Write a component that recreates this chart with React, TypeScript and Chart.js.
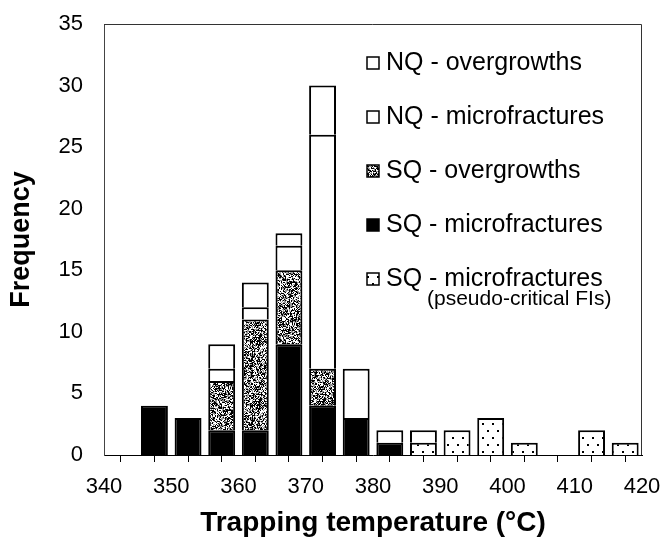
import React, { useEffect, useRef } from 'react';
import { Chart, registerables } from 'chart.js';

Chart.register(...registerables);

// ---- Data ----
const binCenters = [347.5, 352.5, 357.5, 362.5, 367.5, 372.5, 377.5, 382.5, 387.5, 392.5, 397.5, 402.5, 407.5, 412.5, 417.5];
const sqMicrofractures = [4, 3, 2, 2, 9, 4, 3, 1, 0, 0, 0, 0, 0, 0, 0];
const sqPseudoCritical = [0, 0, 0, 0, 0, 0, 0, 0, 1, 2, 3, 1, 0, 2, 1];
const sqOvergrowths = [0, 0, 4, 9, 6, 3, 0, 0, 0, 0, 0, 0, 0, 0, 0];
const nqMicrofractures = [0, 0, 1, 1, 2, 19, 4, 1, 1, 0, 0, 0, 0, 0, 0];
const nqOvergrowths = [0, 0, 2, 2, 1, 4, 0, 0, 0, 0, 0, 0, 0, 0, 0];

const seriesLabels = ['SQ - microfractures', 'SQ - microfractures', 'SQ - overgrowths', 'NQ - microfractures', 'NQ - overgrowths'];
const legendOrder = [4, 3, 2, 0, 1];
const legendNote = '(pseudo-critical FIs)';

const xMin = 340;
const xMax = 420;
const xStep = 5;
const xLabelStep = 10;
const yMin = 0;
const yMax = 35;
const yStep = 5;

const xTitle = 'Trapping temperature (°C)';
const yTitle = 'Frequency';

const FONT = '"Liberation Sans", Arial, Helvetica, sans-serif';

function hash2(x: number, y: number): number {
  let h = Math.imul(x, 374761393) + Math.imul(y, 668265263);
  h = Math.imul(h ^ (h >>> 13), 1274126177);
  h = h ^ (h >>> 16);
  return (h >>> 0) / 4294967296;
}

function makeStipple(ctx: CanvasRenderingContext2D): CanvasPattern | string {
  const size = 64;
  const c = document.createElement('canvas');
  c.width = size;
  c.height = size;
  const g = c.getContext('2d');
  if (!g) return '#777';
  const img = g.createImageData(size, size);
  for (let y = 0; y < size; y++) {
    for (let x = 0; x < size; x++) {
      const h = hash2(x + 11, y + 7);
      const v = h < 0.42 ? 0 : h < 0.68 ? 150 : 255;
      const i = (y * size + x) * 4;
      img.data[i] = v;
      img.data[i + 1] = v;
      img.data[i + 2] = v;
      img.data[i + 3] = 255;
    }
  }
  g.putImageData(img, 0, 0);
  return ctx.createPattern(c, 'repeat') || '#777';
}

function makeDots(ctx: CanvasRenderingContext2D): CanvasPattern | string {
  const c = document.createElement('canvas');
  c.width = 10;
  c.height = 14;
  const g = c.getContext('2d');
  if (!g) return '#fff';
  g.fillStyle = '#fff';
  g.fillRect(0, 0, 10, 14);
  g.fillStyle = '#000';
  g.fillRect(2, 3, 2, 2);
  g.fillRect(7, 10, 2, 2);
  return ctx.createPattern(c, 'repeat') || '#fff';
}

const toPoints = (vals: number[]) =>
  binCenters.map((x, i) => ({ x, y: vals[i] > 0 ? vals[i] : null }));

export default function App() {
  const ref = useRef<HTMLCanvasElement | null>(null);

  useEffect(() => {
    const canvas = ref.current;
    if (!canvas) return;
    const ctx = canvas.getContext('2d');
    if (!ctx) return;
    const stipple = makeStipple(ctx);
    const dots = makeDots(ctx);

    const fills: any[] = ['#000000', dots, stipple, '#ffffff', '#ffffff'];
    const values = [sqMicrofractures, sqPseudoCritical, sqOvergrowths, nqMicrofractures, nqOvergrowths];

    const framePlugin = {
      id: 'frame',
      afterDatasetsDraw(chart: any) {
        const { ctx: c, chartArea: a } = chart;
        c.save();
        c.strokeStyle = '#333';
        c.lineWidth = 1;
        c.beginPath();
        c.moveTo(a.left, a.top + 0.5);
        c.lineTo(a.right - 0.5, a.top + 0.5);
        c.lineTo(a.right - 0.5, a.bottom);
        c.stroke();
        c.restore();
      },
    };

    const legendPlugin = {
      id: 'insideLegend',
      afterDraw(chart: any) {
        const { ctx: c, chartArea: a } = chart;
        const ds = chart.data.datasets;
        c.save();
        const boxX = a.left + 263;
        const textX = a.left + 282;
        const rowGap = 54;
        legendOrder.forEach((di, row) => {
          const cy = a.top + 39 + row * rowGap;
          c.fillStyle = ds[di].backgroundColor;
          c.fillRect(boxX, cy - 6, 12, 12);
          c.strokeStyle = '#000';
          c.lineWidth = 1.5;
          c.strokeRect(boxX, cy - 6, 12, 12);
          c.fillStyle = '#000';
          c.font = `25px ${FONT}`;
          c.textAlign = 'left';
          c.textBaseline = 'middle';
          c.fillText(ds[di].label, textX, cy);
          if (row === legendOrder.length - 1) {
            c.font = `21px ${FONT}`;
            c.fillText(legendNote, a.left + 323, cy + 20);
          }
        });
        c.restore();
      },
    };

    const chart = new Chart(canvas, {
      type: 'bar',
      data: {
        datasets: values.map((v, i) => ({
          label: seriesLabels[i],
          data: toPoints(v),
          backgroundColor: fills[i],
          borderColor: '#000',
          borderWidth: 2,
          barPercentage: 0.8,
          categoryPercentage: 1,
        })),
      },
      options: {
        animation: false,
        responsive: false,
        devicePixelRatio: 1,
        layout: { padding: { top: 24, right: 20, bottom: 0, left: 0 } },
        plugins: {
          legend: { display: false },
          tooltip: { enabled: false },
        },
        scales: {
          x: {
            type: 'linear',
            min: xMin,
            max: xMax,
            stacked: true,
            offset: false,
            ticks: {
              stepSize: xStep,
              autoSkip: false,
              maxRotation: 0,
              padding: 12,
              color: '#000',
              font: { size: 22, family: FONT },
              callback: (v: any) => (Number(v) % xLabelStep === 0 ? String(v) : ''),
            },
            grid: { drawOnChartArea: false, drawTicks: true, tickLength: 7, color: '#000', lineWidth: 1 },
            border: { display: true, color: '#000', width: 1 },
            title: {
              display: true,
              text: xTitle,
              color: '#000',
              font: { size: 28, weight: 'bold', family: FONT },
              padding: { top: 0, bottom: 2 },
            },
            afterFit: (s: any) => {
              s.height = 87;
              s.paddingLeft = 0;
              s.paddingRight = 0;
            },
          } as any,
          y: {
            min: yMin,
            max: yMax,
            stacked: true,
            ticks: {
              stepSize: yStep,
              padding: 21,
              color: '#000',
              font: { size: 22, family: FONT },
            },
            grid: { display: false, drawTicks: false },
            border: { display: true, color: '#444', width: 1 },
            title: {
              display: true,
              text: yTitle,
              color: '#000',
              font: { size: 27, weight: 'bold', family: FONT },
              padding: { top: 5, bottom: 0 },
            },
            afterFit: (s: any) => {
              s.width = 104;
              s.paddingTop = 0;
              s.paddingBottom = 0;
            },
          } as any,
        },
      },
      plugins: [framePlugin, legendPlugin],
    });

    return () => chart.destroy();
  }, []);

  return (
    <div style={{ position: 'absolute', left: 0, top: 0, width: 662, height: 542, background: '#fff' }}>
      <canvas ref={ref} width={662} height={542} style={{ display: 'block' }} />
    </div>
  );
}
